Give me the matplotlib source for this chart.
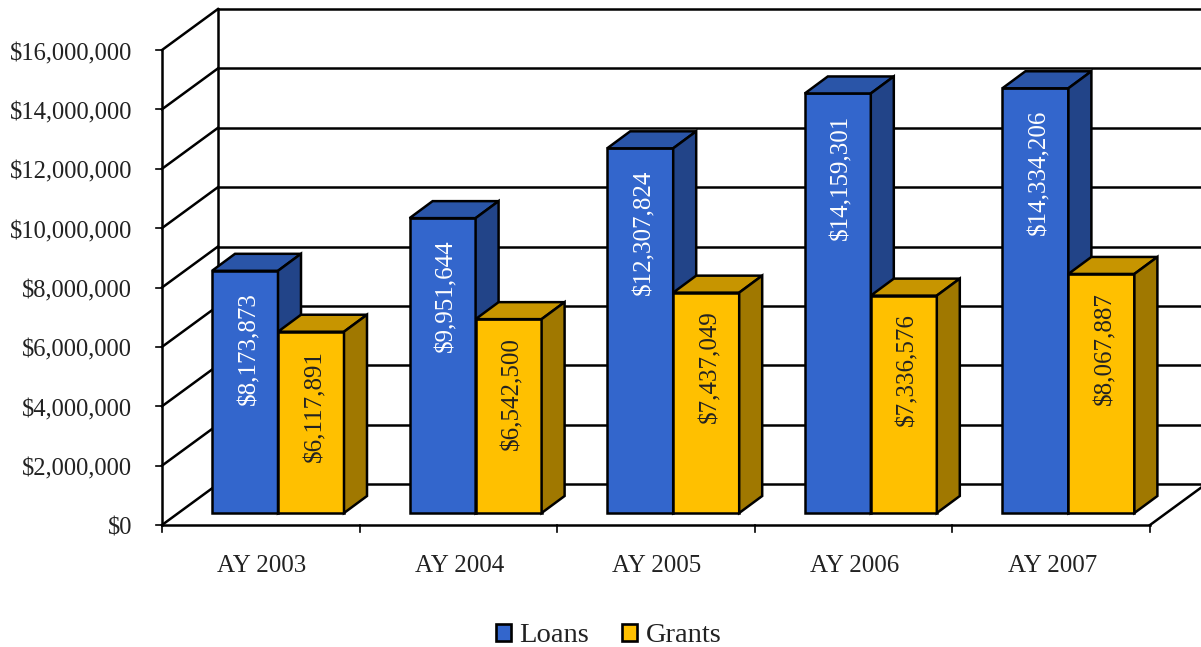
"""Loans and grants by academic year, drawn as a 3D-look bar chart."""

import matplotlib

matplotlib.use("Agg")
import matplotlib.pyplot as plt
from matplotlib.patches import Patch, Polygon

YEARS = ["AY 2003", "AY 2004", "AY 2005", "AY 2006", "AY 2007"]
LOANS = [8173873, 9951644, 12307824, 14159301, 14334206]
GRANTS = [6117891, 6542500, 7437049, 7336576, 8067887]
TICK_VALUES = [0, 2000000, 4000000, 6000000, 8000000, 10000000,
               12000000, 14000000, 16000000]

# chart geometry, in image pixels
FRONT_LEFT = 162.0
FRONT_BOTTOM = 525.0
PX_PER_DOLLAR = 475.0 / 16000000
BAR_PX_PER_DOLLAR = 29.63e-6
WALL_DX, WALL_DY = 56.0, -41.0
CAT_WIDTH = 197.6
BAR_BASE = 513.0
BAR_START = 50.0
BAR_WIDTH = 66.0
BAR_DX, BAR_DY = 23.0, -17.0

LOAN_COLORS = ("#3366CC", "#2A55A8", "#224488")
GRANT_COLORS = ("#FFC000", "#C79500", "#A07800")
TEXT_COLOR = "#222222"
FONT = "Liberation Serif"


def valor_a_y(valor):
    return FRONT_BOTTOM - valor * PX_PER_DOLLAR


def tope_barra(valor):
    return BAR_BASE - valor * BAR_PX_PER_DOLLAR


def dibujar_barra(ax, x, valor, colores):
    """Front, top and side faces of one bar."""
    frente, techo, lado = colores
    y = tope_barra(valor)
    d = BAR_WIDTH
    caras = [
        ([(x, BAR_BASE), (x + d, BAR_BASE), (x + d, y), (x, y)], frente),
        ([(x, y), (x + d, y), (x + d + BAR_DX, y + BAR_DY),
          (x + BAR_DX, y + BAR_DY)], techo),
        ([(x + d, BAR_BASE), (x + d + BAR_DX, BAR_BASE + BAR_DY),
          (x + d + BAR_DX, y + BAR_DY), (x + d, y)], lado),
    ]
    for puntos, color in caras:
        ax.add_patch(Polygon(puntos, closed=True, facecolor=color,
                             edgecolor="black", linewidth=1.8,
                             joinstyle="miter", zorder=3))


def dibujar_ejes(ax):
    right = FRONT_LEFT + CAT_WIDTH * len(YEARS)
    for valor in TICK_VALUES:
        y = valor_a_y(valor)
        # back wall line, side wall line, tick
        ax.plot([FRONT_LEFT + WALL_DX, right + WALL_DX],
                [y + WALL_DY, y + WALL_DY], color="black", lw=1.8, zorder=1)
        ax.plot([FRONT_LEFT, FRONT_LEFT + WALL_DX], [y, y + WALL_DY],
                color="black", lw=1.8, zorder=1)
        ax.plot([FRONT_LEFT - 6, FRONT_LEFT], [y, y], color="black", lw=1.2,
                zorder=1)
        ax.text(132, y + 4, f"${valor:,}", ha="right", va="center",
                fontsize=17.7, family=FONT, color=TEXT_COLOR)

    top = valor_a_y(TICK_VALUES[-1])
    ax.plot([FRONT_LEFT, FRONT_LEFT], [FRONT_BOTTOM, top], color="black",
            lw=1.8, zorder=1)
    ax.plot([FRONT_LEFT + WALL_DX] * 2, [FRONT_BOTTOM + WALL_DY, top + WALL_DY],
            color="black", lw=1.8, zorder=1)
    ax.plot([FRONT_LEFT, right], [FRONT_BOTTOM, FRONT_BOTTOM], color="black",
            lw=1.8, zorder=1)
    ax.plot([right, right + WALL_DX], [FRONT_BOTTOM, FRONT_BOTTOM + WALL_DY],
            color="black", lw=1.8, zorder=1)

    for i in range(len(YEARS) + 1):
        x = FRONT_LEFT + i * CAT_WIDTH
        ax.plot([x, x], [FRONT_BOTTOM, FRONT_BOTTOM + 7], color="black",
                lw=1.2, zorder=1)


def main():
    fig = plt.figure(figsize=(12.01, 6.47), dpi=100)
    ax = fig.add_axes([0, 0, 1, 1])
    ax.set_xlim(0, 1201)
    ax.set_ylim(647, 0)
    ax.axis("off")

    dibujar_ejes(ax)

    for i, anio in enumerate(YEARS):
        x_loan = BAR_START + FRONT_LEFT + i * CAT_WIDTH
        x_grant = x_loan + BAR_WIDTH
        dibujar_barra(ax, x_loan, LOANS[i], LOAN_COLORS)
        dibujar_barra(ax, x_grant, GRANTS[i], GRANT_COLORS)

        ax.text(x_loan + BAR_WIDTH / 2 + 4, tope_barra(LOANS[i]) + 21,
                f"${LOANS[i]:,}", rotation=90, ha="center", va="top",
                fontsize=18, family=FONT, color="white", zorder=4)
        ax.text(x_grant + BAR_WIDTH / 2 + 4, tope_barra(GRANTS[i]) + 18,
                f"${GRANTS[i]:,}", rotation=90, ha="center", va="top",
                fontsize=18, family=FONT, color=TEXT_COLOR, zorder=4)

        ax.text(FRONT_LEFT + (i + 0.5) * CAT_WIDTH + 1, 566, anio, ha="center",
                va="center", fontsize=18, family=FONT, color=TEXT_COLOR)

    manejadores = [
        Patch(facecolor=LOAN_COLORS[0], edgecolor="black", linewidth=1.9,
              label="Loans"),
        Patch(facecolor=GRANT_COLORS[0], edgecolor="black", linewidth=1.9,
              label="Grants"),
    ]
    ax.legend(handles=manejadores, loc="center", ncol=2,
              bbox_to_anchor=(608.5 / 1201, 1 - 636 / 647), frameon=False,
              prop={"family": FONT, "size": 20.5}, labelcolor=TEXT_COLOR,
              handlelength=0.53, handleheight=0.53, handletextpad=0.3,
              columnspacing=1.15, borderpad=0)

    fig.savefig("out.png", dpi=100)
    plt.close(fig)


if __name__ == "__main__":
    main()
